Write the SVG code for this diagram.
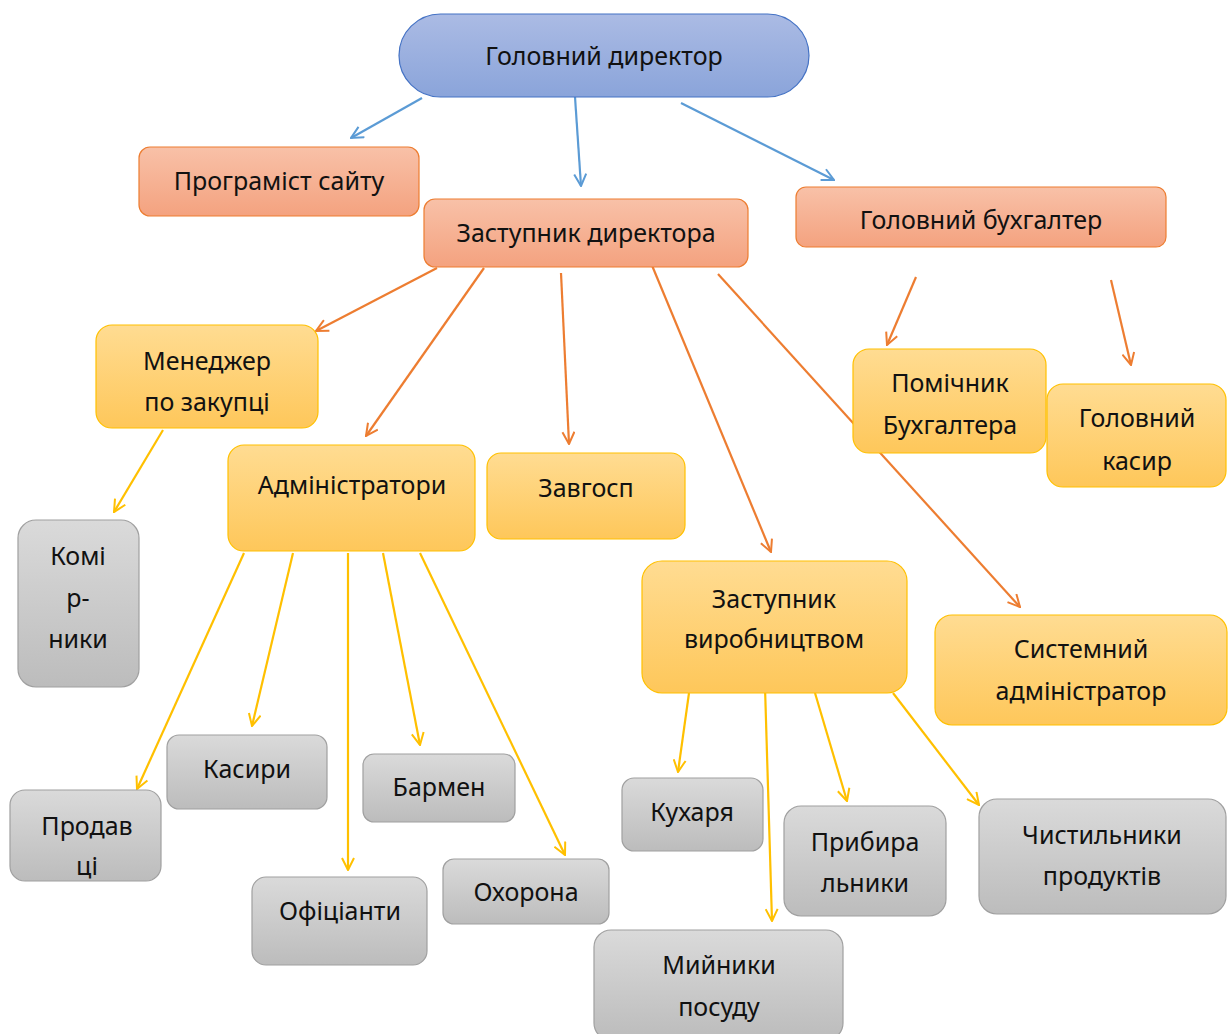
<svg xmlns="http://www.w3.org/2000/svg" width="1232" height="1034" viewBox="0 0 1232 1034">
<defs>
<linearGradient id="gBlue" x1="0" y1="0" x2="0" y2="1"><stop offset="0" stop-color="#abbbe4"/><stop offset="1" stop-color="#8aa4da"/></linearGradient>
<linearGradient id="gSalmon" x1="0" y1="0" x2="0" y2="1"><stop offset="0" stop-color="#f8c1a8"/><stop offset="1" stop-color="#f4a27f"/></linearGradient>
<linearGradient id="gYellow" x1="0" y1="0" x2="0" y2="1"><stop offset="0" stop-color="#ffdc92"/><stop offset="1" stop-color="#fec75a"/></linearGradient>
<linearGradient id="gGray" x1="0" y1="0" x2="0" y2="1"><stop offset="0" stop-color="#dadada"/><stop offset="1" stop-color="#bcbcbc"/></linearGradient>
<marker id="aBlue" viewBox="0 0 14 14" refX="13" refY="7" markerWidth="14" markerHeight="14" markerUnits="userSpaceOnUse" orient="auto"><path d="M1,1 L13,7 L1,13" fill="none" stroke="#5b9bd5" stroke-width="2"/></marker>
<marker id="aOrange" viewBox="0 0 14 14" refX="13" refY="7" markerWidth="14" markerHeight="14" markerUnits="userSpaceOnUse" orient="auto"><path d="M1,1 L13,7 L1,13" fill="none" stroke="#ed7d31" stroke-width="2"/></marker>
<marker id="aYellow" viewBox="0 0 14 14" refX="13" refY="7" markerWidth="14" markerHeight="14" markerUnits="userSpaceOnUse" orient="auto"><path d="M1,1 L13,7 L1,13" fill="none" stroke="#ffc000" stroke-width="2"/></marker>
</defs>
<style>
text{font-family:"Noto Sans","Open Sans","DejaVu Sans",sans-serif;font-size:25px;fill:#111;text-anchor:middle;}
.blue{fill:url(#gBlue);stroke:#4472c4;stroke-width:1.2;}
.salmon{fill:url(#gSalmon);stroke:#ed7d31;stroke-width:1.2;}
.yellow{fill:url(#gYellow);stroke:#ffc000;stroke-width:1.2;}
.gray{fill:url(#gGray);stroke:#a0a0a0;stroke-width:1.2;}
.cb{stroke:#5b9bd5;stroke-width:2.2;fill:none;marker-end:url(#aBlue);}
.co{stroke:#ed7d31;stroke-width:2.2;fill:none;marker-end:url(#aOrange);}
.cy{stroke:#ffc000;stroke-width:2.2;fill:none;marker-end:url(#aYellow);}
</style>
<rect width="1232" height="1034" fill="#fff"/>
<g id="connectors">
<line class="cb" x1="422" y1="98" x2="351" y2="138"/>
<line class="cb" x1="575" y1="97" x2="581" y2="186"/>
<line class="cb" x1="681" y1="103" x2="834" y2="180"/>
<line class="co" x1="437" y1="268" x2="316" y2="331"/>
<line class="co" x1="484" y1="268" x2="366" y2="436"/>
<line class="co" x1="561" y1="273" x2="569" y2="444"/>
<line class="co" x1="651" y1="263" x2="771" y2="552"/>
<line class="co" x1="718" y1="274" x2="1020" y2="607"/>
<line class="co" x1="916" y1="277" x2="887" y2="345"/>
<line class="co" x1="1111" y1="280" x2="1131" y2="365"/>
<line class="cy" x1="163" y1="430" x2="114" y2="512"/>
<line class="cy" x1="244" y1="553" x2="137" y2="789"/>
<line class="cy" x1="293" y1="553" x2="252" y2="726"/>
<line class="cy" x1="348" y1="553" x2="348" y2="870"/>
<line class="cy" x1="383" y1="553" x2="420" y2="745"/>
<line class="cy" x1="420" y1="553" x2="565" y2="855"/>
<line class="cy" x1="689" y1="693" x2="678" y2="772"/>
<line class="cy" x1="765" y1="687" x2="772" y2="921"/>
<line class="cy" x1="815" y1="693" x2="847" y2="801"/>
<line class="cy" x1="893" y1="693" x2="979" y2="805"/>
</g>
<g id="n-director"><rect class="blue" x="399" y="14" width="410" height="83" rx="41.5"/><text x="604" y="65">Головний директор</text></g>
<g id="n-programist"><rect class="salmon" x="139" y="147" width="280" height="69" rx="11"/><text x="279" y="190">Програміст сайту</text></g>
<g id="n-zastupnyk"><rect class="salmon" x="424" y="199" width="324" height="68" rx="11"/><text x="586" y="242">Заступник директора</text></g>
<g id="n-buhgalter"><rect class="salmon" x="796" y="187" width="370" height="60" rx="10"/><text x="981" y="229">Головний бухгалтер</text></g>
<g id="n-menedzher"><rect class="yellow" x="96" y="325" width="222" height="103" rx="16"/><text x="207" y="370">Менеджер</text><text x="207" y="411">по закупці</text></g>
<g id="n-admin"><rect class="yellow" x="228" y="445" width="247" height="106" rx="16"/><text x="352" y="494">Адміністратори</text></g>
<g id="n-zavgosp"><rect class="yellow" x="487" y="453" width="198" height="86" rx="14"/><text x="586" y="497">Завгосп</text></g>
<g id="n-pomichnyk"><rect class="yellow" x="853" y="349" width="193" height="104" rx="16"/><text x="950" y="392">Помічник</text><text x="950" y="434">Бухгалтера</text></g>
<g id="n-kasyr"><rect class="yellow" x="1047" y="384" width="179" height="103" rx="16"/><text x="1137" y="427">Головний</text><text x="1137" y="470">касир</text></g>
<g id="n-komirnyky"><rect class="gray" x="18" y="520" width="121" height="167" rx="18"/><text x="78" y="565">Комі</text><text x="78" y="607">р-</text><text x="78" y="648">ники</text></g>
<g id="n-vyrobnyctvo"><rect class="yellow" x="642" y="561" width="265" height="132" rx="20"/><text x="774" y="608">Заступник</text><text x="774" y="648">виробництвом</text></g>
<g id="n-sysadmin"><rect class="yellow" x="935" y="615" width="292" height="110" rx="17"/><text x="1081" y="658">Системний</text><text x="1081" y="700">адміністратор</text></g>
<g id="n-prodavci"><rect class="gray" x="10" y="790" width="151" height="91" rx="15"/><text x="87" y="835">Продав</text><text x="87" y="875">ці</text></g>
<g id="n-kasyry"><rect class="gray" x="167" y="735" width="160" height="74" rx="12"/><text x="247" y="778">Касири</text></g>
<g id="n-barmen"><rect class="gray" x="363" y="754" width="152" height="68" rx="11"/><text x="439" y="796">Бармен</text></g>
<g id="n-oficianty"><rect class="gray" x="252" y="877" width="175" height="88" rx="14"/><text x="340" y="920">Офіціанти</text></g>
<g id="n-ohorona"><rect class="gray" x="443" y="859" width="166" height="65" rx="11"/><text x="526" y="901">Охорона</text></g>
<g id="n-kuharya"><rect class="gray" x="622" y="778" width="141" height="73" rx="12"/><text x="692" y="821">Кухаря</text></g>
<g id="n-prybyralnyky"><rect class="gray" x="784" y="806" width="162" height="110" rx="17"/><text x="865" y="851">Прибира</text><text x="865" y="892">льники</text></g>
<g id="n-chystylnyky"><rect class="gray" x="979" y="799" width="247" height="115" rx="18"/><text x="1102" y="844">Чистильники</text><text x="1102" y="885">продуктів</text></g>
<g id="n-myinyky"><rect class="gray" x="594" y="930" width="249" height="110" rx="17"/><text x="719" y="974">Мийники</text><text x="719" y="1016">посуду</text></g>
</svg>
